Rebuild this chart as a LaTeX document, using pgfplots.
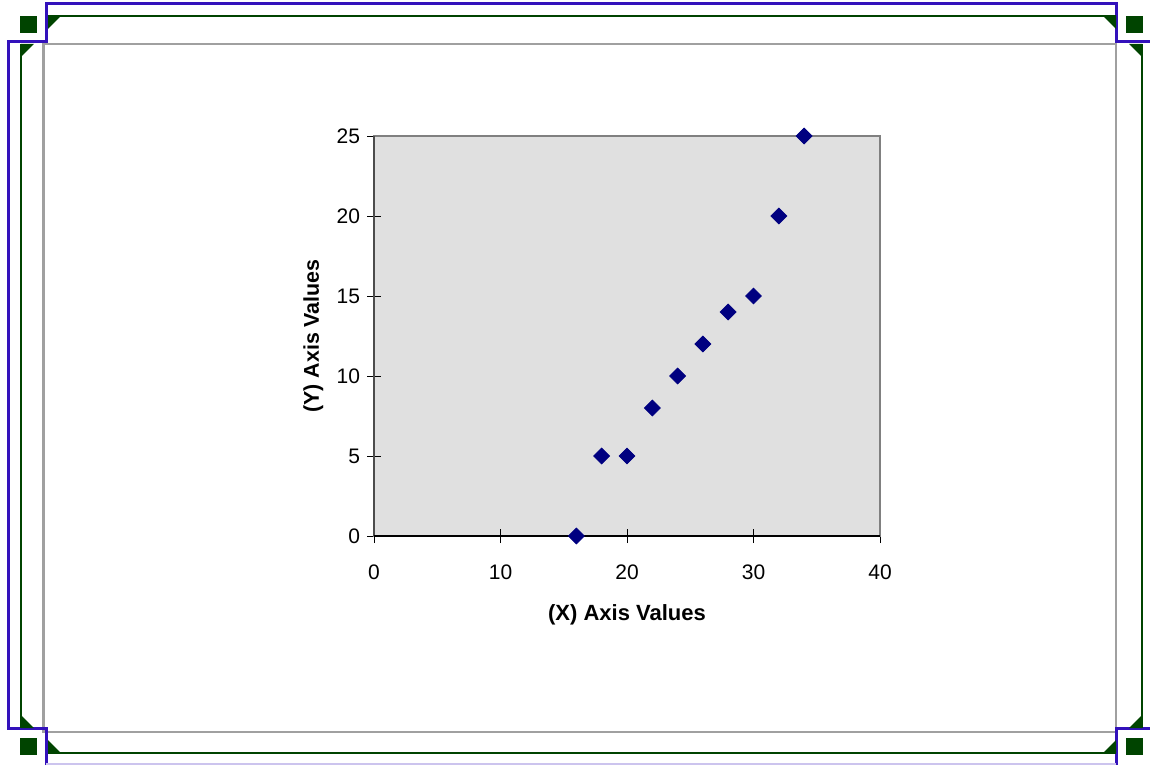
\documentclass[border=0pt]{standalone}
\usepackage{pgfplots}
\pgfplotsset{compat=1.18}
\usepackage{fontspec}
\setmainfont{Liberation Sans}

\definecolor{selblue}{RGB}{51,17,187}
\definecolor{selgreen}{RGB}{0,68,0}
\definecolor{plotbg}{RGB}{224,224,224}
\definecolor{framegray}{RGB}{160,160,160}
\definecolor{markblue}{RGB}{0,0,128}

\begin{document}
\begin{tikzpicture}
  % pixel grid of the reference: 1 px = 0.5pt, y pointing down
  \begin{scope}[x=0.5pt, y=-0.5pt]
    \useasboundingbox (0,0) rectangle (1150,765);
    % chart area border
    \draw[framegray, line width=1.3pt] (43.5,44) rectangle (1116,732);
    % selection outline
    \draw[selblue, line width=1.5pt]
      (46,765) -- (46,728) -- (8,728) -- (8,42) -- (46,42) -- (46,4)
      -- (1116,4) -- (1116,42) -- (1150,42);
    \draw[selblue, line width=1.5pt] (1150,728) -- (1116,728) -- (1116,765);
    \draw[selblue!25, line width=1pt] (46,764) -- (1116,764);
    % green resize lines with corner wedges
    \draw[selgreen, line width=1.3pt] (48,16) -- (1116,16);
    \draw[selgreen, line width=1.3pt] (48,753) -- (1116,753);
    \draw[selgreen, line width=1.3pt] (21,44) -- (21,728);
    \draw[selgreen, line width=1.3pt] (1142,44) -- (1142,728);
    \fill[selgreen] (48,16) -- (61,16) -- (48,29) -- cycle;
    \fill[selgreen] (1116,16) -- (1103,16) -- (1116,29) -- cycle;
    \fill[selgreen] (48,753) -- (61,753) -- (48,740) -- cycle;
    \fill[selgreen] (1116,753) -- (1103,753) -- (1116,740) -- cycle;
    \fill[selgreen] (21,44) -- (34,44) -- (21,57) -- cycle;
    \fill[selgreen] (21,728) -- (34,728) -- (21,715) -- cycle;
    \fill[selgreen] (1142,44) -- (1129,44) -- (1142,57) -- cycle;
    \fill[selgreen] (1142,728) -- (1129,728) -- (1142,715) -- cycle;
    % handles
    \fill[selgreen] (20,16) rectangle (37,33);
    \fill[selgreen] (1126,16) rectangle (1143,33);
    \fill[selgreen] (20,738) rectangle (37,755);
    \fill[selgreen] (1126,738) rectangle (1143,755);
  \end{scope}

  \begin{axis}[
      at={(187pt,-268pt)}, anchor=south west,
      width=253pt, height=200pt, scale only axis,
      xmin=0, xmax=40, ymin=0, ymax=25,
      xtick={0,10,20,30,40}, ytick={0,5,10,15,20,25},
      tick align=center, major tick length=7pt,
      xtick pos=bottom, ytick pos=left,
      tick style={black, line width=0.5pt},
      axis background/.style={fill=plotbg},
      axis line style={draw=gray, line width=1pt},
      clip=false,
      font=\fontsize{10.5}{12}\selectfont,
      /pgf/number format/assume math mode=true,
      xticklabel style={yshift=-7.5pt},
      xlabel={\fontsize{11}{13}\selectfont\bfseries (X) Axis Values},
      ylabel={\fontsize{10.7}{13}\selectfont\bfseries (Y) Axis Values},
      xlabel style={at={(axis description cs:0.5,-0.197)}, anchor=center},
      ylabel style={at={(axis description cs:-0.12,0.5)}, anchor=center},
    ]
    \draw[black!70, line width=1pt] (rel axis cs:0,0) -- (rel axis cs:0,1);
    \draw[black, line width=0.6pt] (rel axis cs:0,0) -- (rel axis cs:1,0);
    \addplot[only marks, mark=square*, mark size=2.8pt, color=markblue,
      every mark/.append style={rotate=45}]
      coordinates {
        (16,0) (18,5) (20,5) (22,8) (24,10)
        (26,12) (28,14) (30,15) (32,20) (34,25)
      };
  \end{axis}
\end{tikzpicture}
\end{document}
